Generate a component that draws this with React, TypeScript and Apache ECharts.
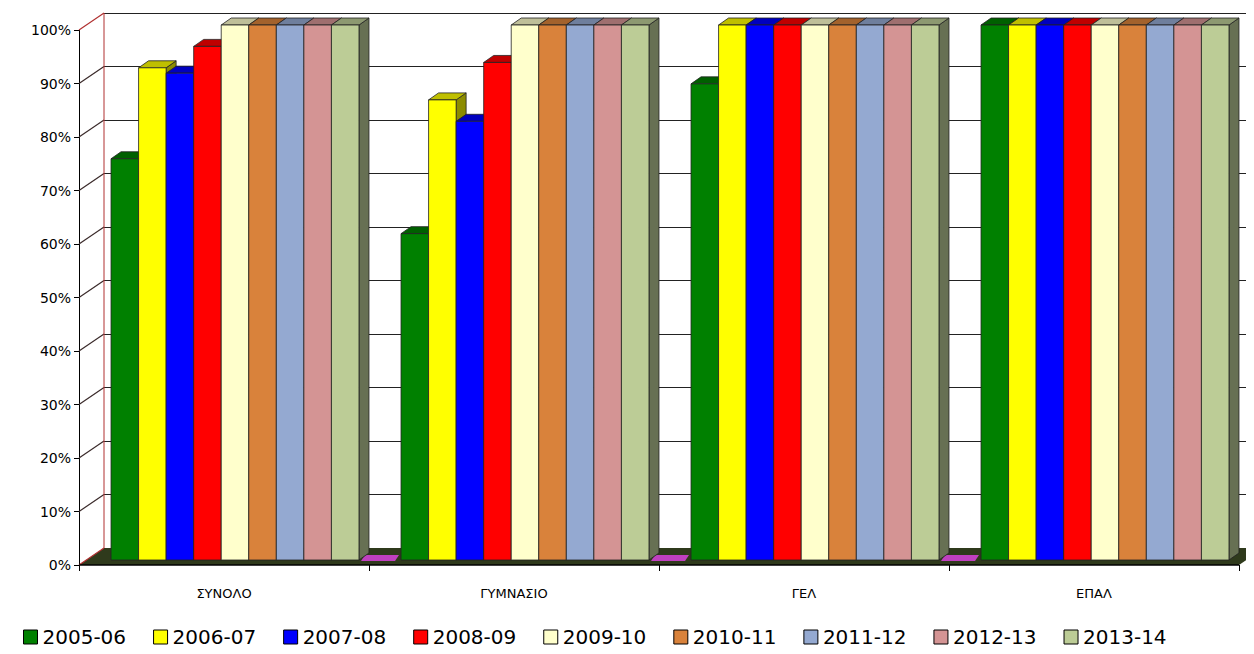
import { useEffect, useRef } from "react";
import * as echarts from "echarts";

const categories = ["ΣΥΝΟΛΟ", "ΓΥΜΝΑΣΙΟ", "ΓΕΛ", "ΕΠΑΛ"];
const years = ["2005-06", "2006-07", "2007-08", "2008-09", "2009-10", "2010-11", "2011-12", "2012-13", "2013-14"];
const colors = ["#008000", "#ffff00", "#0000ff", "#ff0000", "#ffffcc", "#d9823b", "#94a9d1", "#d49494", "#bccc96"];
const values = [
  [75, 61, 89, 100],
  [92, 86, 100, 100],
  [91, 82, 100, 100],
  [96, 93, 100, 100],
  [100, 100, 100, 100],
  [100, 100, 100, 100],
  [100, 100, 100, 100],
  [100, 100, 100, 100],
  [100, 100, 100, 100],
];
const ticks = [0, 10, 20, 30, 40, 50, 60, 70, 80, 90, 100];

const DX = 25, DY = 17; // wall depth
const FONT = "'DejaVu Sans', sans-serif";

function shade(hex: string, f: number) {
  const n = parseInt(hex.slice(1), 16);
  const r = Math.round(((n >> 16) & 255) * f);
  const g = Math.round(((n >> 8) & 255) * f);
  const b = Math.round((n & 255) * f);
  return `rgb(${r},${g},${b})`;
}

export default function App() {
  const ref = useRef<HTMLDivElement>(null);

  useEffect(() => {
    if (!ref.current) return;
    const chart = echarts.init(ref.current, null, { renderer: "svg" });

    const barSeries = years.map((y, i) => ({
      name: y,
      type: "custom",
      xAxisIndex: 0,
      yAxisIndex: 0,
      z: 10,
      itemStyle: { color: colors[i] },
      data: values[i].map((v, c) => [c, v]),
      renderItem: (_p: any, api: any) => {
        const c = api.value(0);
        const v = api.value(1);
        const [cx, yt0] = api.coord([c, v]);
        const yb = api.coord([c, 0])[1] - 5;
        const yt = yt0 - 5;
        const band = api.size([1, 0])[0];
        const w = band * 0.095;
        const x = cx - 4.5 * w + i * w + 11;
        const dx = 10, dy = 7;
        const col = colors[i];
        const stroke = { stroke: "#222", lineWidth: 0.8 };
        return {
          type: "group",
          children: [
            { type: "polygon", shape: { points: [[x + w, yt], [x + w + dx, yt - dy], [x + w + dx, yb - dy], [x + w, yb]] }, style: { fill: shade(col, 0.55), ...stroke } },
            { type: "polygon", shape: { points: [[x, yt], [x + dx, yt - dy], [x + w + dx, yt - dy], [x + w, yt]] }, style: { fill: shade(col, 0.75), ...stroke } },
            { type: "rect", shape: { x, y: yt, width: w, height: yb - yt }, style: { fill: col, ...stroke } },
          ],
        };
      },
    }));

    const wallSeries = {
      type: "custom",
      xAxisIndex: 0,
      yAxisIndex: 0,
      z: 2,
      silent: true,
      clip: false,
      data: [[0, 0]],
      renderItem: (_p: any, api: any) => {
        const band = api.size([1, 0])[0];
        const x0 = api.coord([0, 0])[0] - band / 2;
        const x1 = api.coord([3, 0])[0] + band / 2;
        const yb = api.coord([0, 0])[1];
        const ytop = api.coord([0, 100])[1];
        const children: any[] = [
          { type: "polygon", shape: { points: [[x0, yb], [x0 + DX, yb - DY], [x1 + DX, yb - DY], [x1, yb]] }, style: { fill: "#2f3a1c" } },
        ];
        for (let c = 0; c < 3; c++) {
          const gx = api.coord([c, 0])[0] + band / 2;
          children.push({ type: "polygon", shape: { points: [[gx - 8, yb - 4], [gx - 4, yb - 10], [gx + 30, yb - 10], [gx + 26, yb - 4]] }, style: { fill: "#c040c0" } });
        }
        ticks.forEach((t) => {
          const y = api.coord([0, t])[1];
          children.push({
            type: "line",
            shape: { x1: x0, y1: y, x2: x0 + DX, y2: y - DY },
            style: { stroke: t === 0 || t === 100 ? "#b03030" : "#3a2a2a", lineWidth: 1.2 },
          });
        });
        children.push(
          { type: "line", shape: { x1: x0 + DX, y1: yb - DY, x2: x0 + DX, y2: ytop - DY }, style: { stroke: "#b03030", lineWidth: 1 } },
          { type: "line", shape: { x1: x0, y1: yb, x2: x1, y2: yb }, style: { stroke: "#000", lineWidth: 1.5 } },
        );
        return { type: "group", children };
      },
    };

    chart.setOption({
      animation: false,
      backgroundColor: "#fff",
      grid: [
        { left: 79, right: 15, top: 30, bottom: 89 },
        { left: 79 + DX, right: 15 - DX, top: 30 - DY, bottom: 89 + DY },
      ],
      xAxis: [
        {
          type: "category",
          gridIndex: 0,
          data: categories,
          axisLine: { show: false },
          axisTick: { show: true, lineStyle: { color: "#000" }, length: 6 },
          axisLabel: { color: "#000", fontFamily: FONT, fontSize: 13, margin: 22 },
        },
        { type: "category", gridIndex: 1, data: categories, show: false },
      ],
      yAxis: [
        {
          type: "value",
          gridIndex: 0,
          min: 0,
          max: 100,
          interval: 10,
          axisLine: { show: true, lineStyle: { color: "#000" } },
          axisTick: { show: true, lineStyle: { color: "#000" }, length: 5 },
          splitLine: { show: false },
          axisLabel: { color: "#000", fontFamily: FONT, fontSize: 14, formatter: "{value}%", margin: 8 },
        },
        {
          type: "value",
          gridIndex: 1,
          min: 0,
          max: 100,
          interval: 10,
          axisLine: { show: false },
          axisTick: { show: false },
          axisLabel: { show: false },
          splitLine: { show: true, lineStyle: { color: "#222", width: 1 } },
        },
      ],
      legend: {
        bottom: 2,
        left: 18,
        itemWidth: 14,
        itemHeight: 14,
        itemGap: 27,
        icon: "rect",
        data: years,
        textStyle: { color: "#000", fontFamily: FONT, fontSize: 20 },
        itemStyle: { borderColor: "#000", borderWidth: 1 },
      },
      series: [wallSeries, ...barSeries],
    });
    return () => chart.dispose();
  }, []);

  return <div ref={ref} style={{ width: 1254, height: 654, margin: -8 }} />;
}
